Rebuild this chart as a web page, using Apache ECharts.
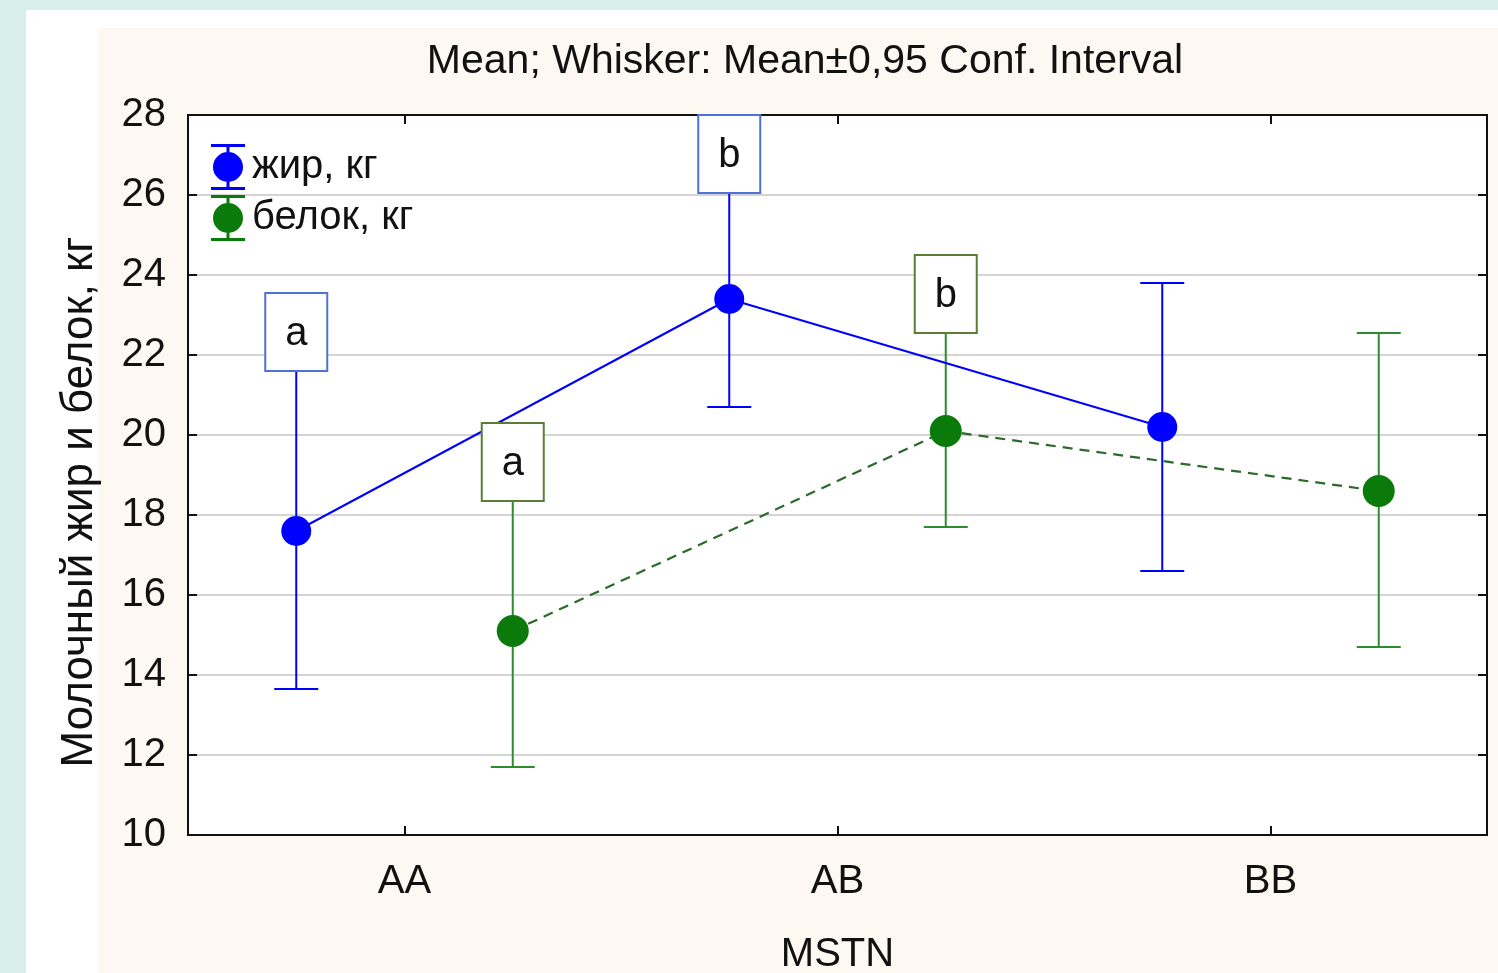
<!DOCTYPE html>
<html>
<head>
<meta charset="utf-8">
<script src="https://cdn.jsdelivr.net/npm/echarts@6/dist/echarts.min.js"></script>
<style>
html,body{margin:0;padding:0;width:1498px;height:973px;overflow:hidden;background:#d8efe9;}
#white{position:absolute;left:26px;top:10px;width:1472px;height:963px;background:#ffffff;}
#cream{position:absolute;left:98px;top:28px;width:1400px;height:945px;background:#fdf9f2;}
#chart{position:absolute;left:0;top:0;width:1498px;height:973px;}
</style>
</head>
<body>
<div id="white"></div>
<div id="cream"></div>
<div id="chart"></div>
<script>
// ---- data ----
const categories = ['AA', 'AB', 'BB'];
const fatName = 'жир, кг';
const proteinName = 'белок, кг';
const fatMean = [17.6, 23.4, 20.2];
const fatLow = [13.65, 20.7, 16.6];
const fatHigh = [21.6, 26.05, 23.8];
const proteinMean = [15.1, 20.1, 18.6];
const proteinLow = [11.7, 17.7, 14.7];
const proteinHigh = [18.35, 22.55, 22.55];
const fatLetters = ['a', 'b', ''];
const proteinLetters = ['a', 'b', ''];
const yMin = 10, yMax = 28, yStep = 2;
const titleText = 'Mean; Whisker: Mean±0,95 Conf. Interval';
const xTitle = 'MSTN';
const yTitle = 'Молочный жир и белок, кг';

// ---- styles ----
const FONT = "'Liberation Sans', Arial, sans-serif";
const BLUE = '#0000ff';
const GREEN_MARK = '#0a7a0a';
const GREEN_LINE = '#2a6a2a';
const GREEN_WHISK = '#2e8b2e';
const BLUE_BOX = '#4f71d6';
const GREEN_BOX = '#5b7d35';
const AXIS_LINE = { show: true, lineStyle: { color: '#111', width: 2 } };

// offsets within a category (fat left, protein right)
const fatX = categories.map((c, i) => i + 0.25);
const protX = categories.map((c, i) => i + 0.75);

function pts(xs, ys) { return xs.map((x, i) => [x, ys[i]]); }
function errData(xs, lo, hi) { return xs.map((x, i) => [x, lo[i], hi[i]]); }

function errRender(color) {
  return function (params, api) {
    const x = api.value(0), lo = api.value(1), hi = api.value(2);
    const a = api.coord([x, lo]), b = api.coord([x, hi]);
    const hw = 22;
    const st = { stroke: color, lineWidth: 2, fill: null };
    return {
      type: 'group', children: [
        { type: 'line', shape: { x1: a[0], y1: a[1], x2: b[0], y2: b[1] }, style: st },
        { type: 'line', shape: { x1: a[0] - hw, y1: a[1], x2: a[0] + hw, y2: a[1] }, style: st },
        { type: 'line', shape: { x1: b[0] - hw, y1: b[1], x2: b[0] + hw, y2: b[1] }, style: st }
      ]
    };
  };
}

function boxRender(letters, color) {
  return function (params, api) {
    const t = letters[params.dataIndex];
    if (!t) return null;
    const p = api.coord([api.value(0), api.value(1)]);
    const w = 62, h = 78;
    return {
      type: 'group', children: [
        { type: 'rect', shape: { x: p[0] - w / 2, y: p[1] - h, width: w, height: h },
          style: { fill: '#ffffff', stroke: color, lineWidth: 2 } },
        { type: 'text', x: p[0], y: p[1] - h / 2 + 2,
          style: { text: t, fill: '#111', font: '40px ' + FONT, align: 'center', verticalAlign: 'middle' } }
      ]
    };
  };
}

const legendIcon = 'path://M0 0H34V3H0Z M0 43H34V46H0Z M15.5 3H18.5V43H15.5Z M32 23A15 15 0 1 1 2 23A15 15 0 1 1 32 23Z';

const chart = echarts.init(document.getElementById('chart'), null, { renderer: 'canvas' });
chart.setOption({
  animation: false,
  backgroundColor: 'transparent',
  textStyle: { fontFamily: FONT },
  title: {
    text: titleText, left: 805, top: 41, textAlign: 'center', padding: 0,
    textStyle: { fontSize: 41, fontWeight: 'normal', color: '#111', fontFamily: FONT }
  },
  legend: {
    orient: 'vertical', left: 206, top: 139, itemWidth: 34, itemHeight: 46, itemGap: 5,
    textStyle: { fontSize: 40, color: '#111', fontFamily: FONT, padding: [0, 0, 0, 2] },
    data: [{ name: fatName, icon: legendIcon }, { name: proteinName, icon: legendIcon }]
  },
  grid: {
    left: 188, top: 115, right: 11, bottom: 138, show: true,
    outerBoundsMode: 'none', containLabel: false,
    backgroundColor: '#ffffff', borderColor: '#111', borderWidth: 2
  },
  graphic: [{
    type: 'text', x: 80, y: 502, rotation: Math.PI / 2,
    style: { text: yTitle, fill: '#111', font: '44px ' + FONT, align: 'center', verticalAlign: 'middle' }
  }],
  xAxis: [{
    type: 'category', data: categories, position: 'bottom', boundaryGap: true,
    axisLine: AXIS_LINE,
    axisTick: { show: true, inside: true, length: 9, alignWithLabel: true, lineStyle: { color: '#111', width: 2 } },
    axisLabel: { fontSize: 40, color: '#111', margin: 27, fontFamily: FONT },
    splitLine: { show: false },
    name: xTitle, nameLocation: 'middle', nameGap: 100,
    nameTextStyle: { fontSize: 40, color: '#111', fontFamily: FONT }
  }, {
    type: 'category', data: categories, position: 'top', boundaryGap: true,
    axisLine: AXIS_LINE,
    axisTick: { show: true, inside: true, length: 9, alignWithLabel: true, lineStyle: { color: '#111', width: 2 } },
    axisLabel: { show: false }, splitLine: { show: false }
  }, {
    type: 'value', min: 0, max: categories.length, show: false
  }],
  yAxis: [{
    type: 'value', min: yMin, max: yMax, interval: yStep, position: 'left',
    axisLine: AXIS_LINE,
    axisTick: { show: true, inside: true, length: 9, lineStyle: { color: '#111', width: 2 } },
    axisLabel: { fontSize: 40, color: '#111', margin: 22, fontFamily: FONT },
    splitLine: { show: true, lineStyle: { color: '#d4d4d4', width: 2 } }
  }, {
    type: 'value', min: yMin, max: yMax, interval: yStep, position: 'right',
    axisLine: AXIS_LINE,
    axisTick: { show: true, inside: true, length: 9, lineStyle: { color: '#111', width: 2 } },
    axisLabel: { show: false }, splitLine: { show: false }
  }],
  series: [{
    name: 'fatErr', type: 'custom', xAxisIndex: 2, yAxisIndex: 0, z: 1,
    renderItem: errRender(BLUE), data: errData(fatX, fatLow, fatHigh)
  }, {
    name: 'protErr', type: 'custom', xAxisIndex: 2, yAxisIndex: 0, z: 1,
    renderItem: errRender(GREEN_WHISK), data: errData(protX, proteinLow, proteinHigh)
  }, {
    name: fatName, type: 'line', xAxisIndex: 2, yAxisIndex: 0, z: 3,
    data: pts(fatX, fatMean), symbol: 'circle', symbolSize: 30,
    itemStyle: { color: BLUE }, lineStyle: { color: BLUE, width: 2 }
  }, {
    name: proteinName, type: 'line', xAxisIndex: 2, yAxisIndex: 0, z: 3,
    data: pts(protX, proteinMean), symbol: 'circle', symbolSize: 32,
    itemStyle: { color: GREEN_MARK }, lineStyle: { color: GREEN_LINE, width: 2.2, type: [10, 7] }
  }, {
    name: 'fatLetters', type: 'custom', xAxisIndex: 2, yAxisIndex: 0, z: 5,
    renderItem: boxRender(fatLetters, BLUE_BOX), data: pts(fatX, fatHigh)
  }, {
    name: 'protLetters', type: 'custom', xAxisIndex: 2, yAxisIndex: 0, z: 5,
    renderItem: boxRender(proteinLetters, GREEN_BOX), data: pts(protX, proteinHigh)
  }]
});
</script>
</body>
</html>
